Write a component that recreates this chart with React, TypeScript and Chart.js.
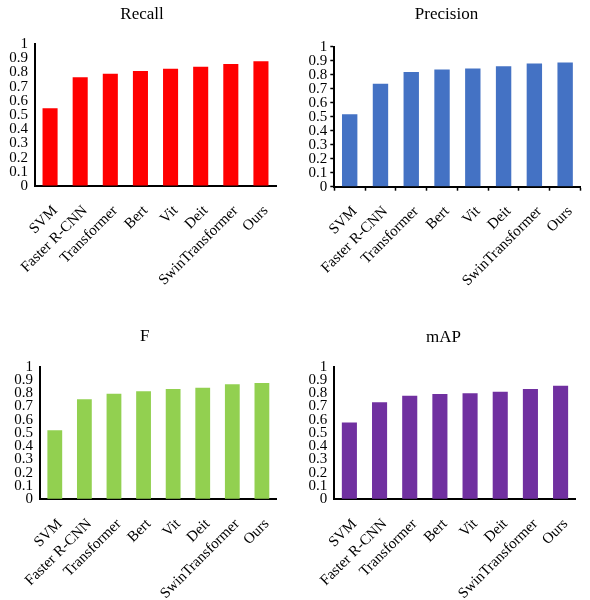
import React, { useEffect, useRef } from "react";
import { Chart, registerables } from "chart.js";

Chart.register(...registerables);

const categories = ["SVM", "Faster R-CNN", "Transformer", "Bert", "Vit", "Deit", "SwinTransformer", "Ours"];
const recallValues = [0.548, 0.765, 0.79, 0.81, 0.826, 0.84, 0.859, 0.878];
const precisionValues = [0.517, 0.736, 0.819, 0.838, 0.845, 0.86, 0.88, 0.888];
const fValues = [0.52, 0.754, 0.796, 0.814, 0.832, 0.842, 0.867, 0.877];
const mapValues = [0.58, 0.731, 0.781, 0.794, 0.799, 0.812, 0.832, 0.857];
const yMin = 0;
const yMax = 1;
const yStep = 0.1;

const FONT = "'Liberation Serif', 'Times New Roman', serif";

type Panel = {
  title: string;
  values: number[];
  color: string;
  left: number;
  top: number;
  padL: number;
  padR: number;
  yWidth: number;
  xHeight: number;
  titleTop: number;
  titleBottom: number;
  ticks: boolean;
};

const panels: Panel[] = [
  { title: "Recall", values: recallValues, color: "#FF0000", left: 0, top: 0, padL: 8, padR: 19, yWidth: 27, xHeight: 114, titleTop: 4.8, titleBottom: 18.8, ticks: false },
  { title: "Precision", values: precisionValues, color: "#4472C4", left: 295, top: 0, padL: 10, padR: 2, yWidth: 29.3, xHeight: 113.3, titleTop: 4.8, titleBottom: 21.5, ticks: true },
  { title: "F", values: fValues, color: "#92D050", left: 0, top: 300, padL: 13, padR: 18.3, yWidth: 27, xHeight: 100.7, titleTop: 26.5, titleBottom: 19.8, ticks: false },
  { title: "mAP", values: mapValues, color: "#7030A0", left: 295, top: 300, padL: 13, padR: 11, yWidth: 26.3, xHeight: 100.7, titleTop: 27.1, titleBottom: 19.2, ticks: false },
];

function BarPanel({ p }: { p: Panel }) {
  const ref = useRef<HTMLCanvasElement | null>(null);
  useEffect(() => {
    if (!ref.current) return;
    const chart = new Chart(ref.current, {
      type: "bar",
      data: {
        labels: categories,
        datasets: [
          {
            data: p.values,
            backgroundColor: p.color,
            borderWidth: 0,
            barPercentage: 0.5,
            categoryPercentage: 1,
          },
        ],
      },
      options: {
        animation: false,
        responsive: false,
        devicePixelRatio: 1,
        layout: { padding: { left: p.padL, right: p.padR, top: 0, bottom: 0 } },
        plugins: {
          legend: { display: false },
          tooltip: { enabled: false },
          title: {
            display: true,
            text: p.title,
            color: "#000",
            font: { family: FONT, size: 17, weight: "normal", lineHeight: 1.2 },
            padding: { top: p.titleTop, bottom: p.titleBottom },
          },
        },
        scales: {
          x: {
            offset: true,
            grid: {
              display: true,
              offset: true,
              drawOnChartArea: false,
              drawTicks: p.ticks,
              tickLength: 4,
              tickColor: "#000",
              tickWidth: 1.5,
            },
            border: { display: true, color: "#000", width: 2 },
            ticks: {
              autoSkip: false,
              minRotation: 45,
              maxRotation: 45,
              color: "#000",
              padding: p.ticks ? 12 : 16,
              labelOffset: 5,
              font: { family: FONT, size: 15 },
            },
            afterFit: (s: any) => {
              s.height = p.xHeight;
            },
          },
          y: {
            min: yMin,
            max: yMax,
            grid: {
              display: true,
              drawOnChartArea: false,
              drawTicks: p.ticks,
              tickLength: 4,
              tickColor: "#000",
              tickWidth: 1.5,
            },
            border: { display: true, color: "#000", width: 2 },
            ticks: {
              stepSize: yStep,
              autoSkip: false,
              color: "#000",
              padding: p.ticks ? 3 : 7,
              font: { family: FONT, size: 15 },
              callback: (v: any) => String(Number(Number(v).toFixed(1))),
            },
            afterFit: (s: any) => {
              s.width = p.yWidth;
            },
          },
        },
      },
    });
    return () => chart.destroy();
  }, [p]);
  return (
    <div style={{ position: "absolute", left: p.left, top: p.top, width: 295, height: 300 }}>
      <canvas ref={ref} width={295} height={300} style={{ display: "block", width: 295, height: 300 }} />
    </div>
  );
}

export default function App() {
  return (
    <div style={{ position: "absolute", left: 0, top: 0, width: 590, height: 600, background: "#fff" }}>
      {panels.map((p) => (
        <BarPanel key={p.title} p={p} />
      ))}
    </div>
  );
}
